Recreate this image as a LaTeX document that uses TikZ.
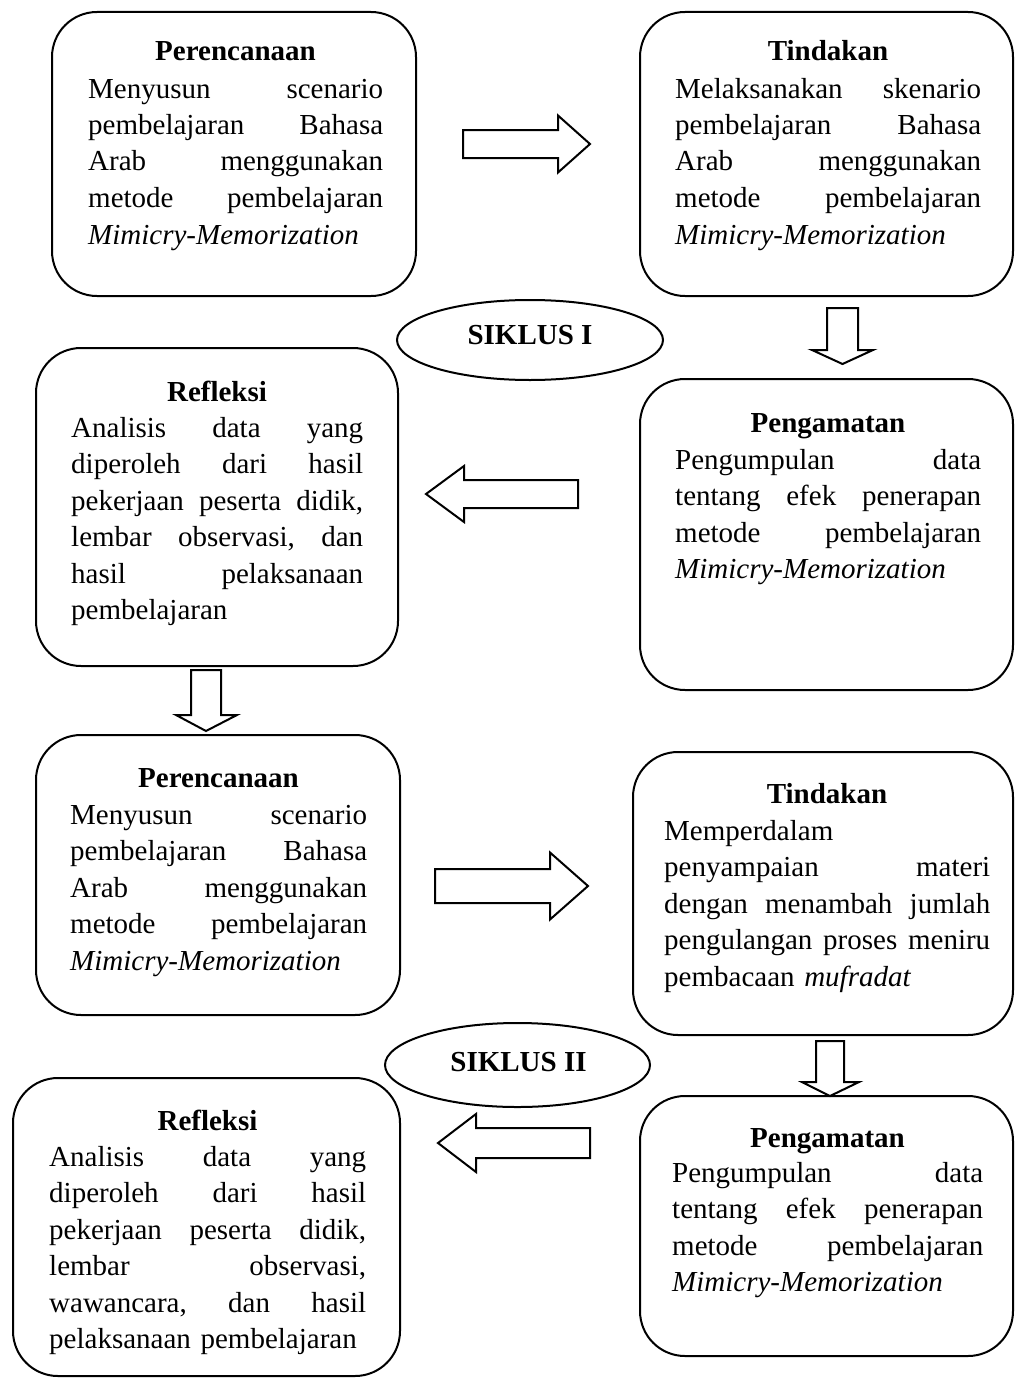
\documentclass[tikz,border=0pt]{standalone}
\usepackage{fontspec}
\setmainfont{Liberation Serif}
\usetikzlibrary{shapes.geometric,fit}
\def\jw{300pt}
\newcommand\jl[1]{\leavevmode\hbox to \jw{#1}}
\begin{document}
\begin{tikzpicture}[x=1pt,y=-1pt,
  box/.style={draw, line width=2pt, rounded corners=45pt, inner sep=0pt},
  ttl/.style={anchor=base, inner sep=0pt, font=\fontsize{29pt}{36.5pt}\selectfont\bfseries},
  bodytext/.style={anchor=base west, inner sep=0pt, align=left, text width=#1,
    execute at begin node={\def\jw{#1}}, font=\fontsize{29pt}{36.5pt}\selectfont},
  cyc/.style={draw, ellipse, line width=2pt, inner sep=0pt},
  cyctext/.style={anchor=base, inner sep=0pt, font=\fontsize{29pt}{36.5pt}\selectfont\bfseries},
  blk/.style={draw, line width=2pt, fill=white, line join=miter}]
\fill[white] (0,0) rectangle (1015,1389);
\useasboundingbox (0,0) rectangle (1015,1389);

% boxes
\node[box, fit={(52,12) (416,296)}] (p1) {};
\node[box, fit={(640,12) (1013,296)}] (t1) {};
\node[box, fit={(36,348) (398,666)}] (r1) {};
\node[box, fit={(640,379) (1013,690)}] (g1) {};
\node[box, fit={(36,735) (400,1015)}] (p2) {};
\node[box, fit={(633,752) (1013,1035)}] (t2) {};
\node[box, fit={(13,1078) (400,1376)}] (r2) {};
\node[box, fit={(640,1096) (1013,1356)}] (g2) {};

% ellipses
\node[cyc, minimum width=266pt, minimum height=80pt] (s1) at (530,340) {};
\node[cyctext] (s1t) at (530,344) {SIKLUS I};
\node[cyc, minimum width=265pt, minimum height=84pt] (s2) at (517.5,1065) {};
\node[cyctext] (s2t) at (518.5,1071) {SIKLUS II};

% Perencanaan 1
\node[ttl] (p1h) at (235.5,61) {Perencanaan};
\node[bodytext=295pt] (p1b) at (88,98) {\jl{Menyusun\hfill scenario}\\\jl{pembelajaran\hfill Bahasa}\\\jl{Arab\hfill menggunakan}\\\jl{metode\hfill pembelajaran}\\\textit{Mimicry-Memorization}};

% Tindakan 1
\node[ttl] (t1h) at (828,61) {Tindakan};
\node[bodytext=306pt] (t1b) at (675,98) {\jl{Melaksanakan\hfill skenario}\\\jl{pembelajaran\hfill Bahasa}\\\jl{Arab\hfill menggunakan}\\\jl{metode\hfill pembelajaran}\\\textit{Mimicry-Memorization}};

% Refleksi 1
\node[ttl] (r1h) at (217,401) {Refleksi};
\node[bodytext=292pt] (r1b) at (71,437) {\jl{Analisis\hfill data\hfill yang}\\\jl{diperoleh\hfill dari\hfill hasil}\\\jl{pekerjaan\hfill peserta\hfill didik,}\\\jl{lembar\hfill observasi,\hfill dan}\\\jl{hasil\hfill pelaksanaan}\\pembelajaran};

% Pengamatan 1
\node[ttl] (g1h) at (828,432) {Pengamatan};
\node[bodytext=306pt] (g1b) at (675,469) {\jl{Pengumpulan\hfill data}\\\jl{tentang\hfill efek\hfill penerapan}\\\jl{metode\hfill pembelajaran}\\\textit{Mimicry-Memorization}};

% Perencanaan 2
\node[ttl] (p2h) at (218.5,787) {Perencanaan};
\node[bodytext=297pt] (p2b) at (70,824) {\jl{Menyusun\hfill scenario}\\\jl{pembelajaran\hfill Bahasa}\\\jl{Arab\hfill menggunakan}\\\jl{metode\hfill pembelajaran}\\\textit{Mimicry-Memorization}};

% Tindakan 2
\node[ttl] (t2h) at (827,803) {Tindakan};
\node[bodytext=326pt] (t2b) at (664,840) {Memperdalam\\\jl{penyampaian\hfill materi}\\\jl{dengan\hfill menambah\hfill jumlah}\\\jl{pengulangan\hfill proses\hfill meniru}\\pembacaan \textit{mufradat}};

% Refleksi 2
\node[ttl] (r2h) at (207.5,1130) {Refleksi};
\node[bodytext=317pt] (r2b) at (49,1166) {\jl{Analisis\hfill data\hfill yang}\\\jl{diperoleh\hfill dari\hfill hasil}\\\jl{pekerjaan\hfill peserta\hfill didik,}\\\jl{lembar\hfill observasi,}\\\jl{wawancara,\hfill dan\hfill hasil}\\pelaksanaan pembelajaran};

% Pengamatan 2
\node[ttl] (g2h) at (827.5,1147) {Pengamatan};
\node[bodytext=311pt] (g2b) at (672,1182) {\jl{Pengumpulan\hfill data}\\\jl{tentang\hfill efek\hfill penerapan}\\\jl{metode\hfill pembelajaran}\\\textit{Mimicry-Memorization}};

% block arrows
\draw[blk] (463,130) -- (558,130) -- (558,115.5) -- (590,144) -- (558,172.5) -- (558,158) -- (463,158) -- cycle;
\draw[blk] (827,308) -- (858,308) -- (858,350) -- (873,350) -- (842.5,364) -- (812,350) -- (827,350) -- cycle;
\draw[blk] (578,480) -- (464,480) -- (464,466) -- (426,494) -- (464,522) -- (464,508) -- (578,508) -- cycle;
\draw[blk] (191,670) -- (221,670) -- (221,715) -- (237,715) -- (206,731) -- (176,715) -- (191,715) -- cycle;
\draw[blk] (435,869) -- (550,869) -- (550,852.5) -- (588,886) -- (550,919.5) -- (550,903) -- (435,903) -- cycle;
\draw[blk] (816,1041) -- (844,1041) -- (844,1082) -- (859,1082) -- (830,1096) -- (802,1082) -- (816,1082) -- cycle;
\draw[blk] (590,1128) -- (476,1128) -- (476,1114) -- (438,1143) -- (476,1172) -- (476,1158) -- (590,1158) -- cycle;
\end{tikzpicture}
\end{document}
